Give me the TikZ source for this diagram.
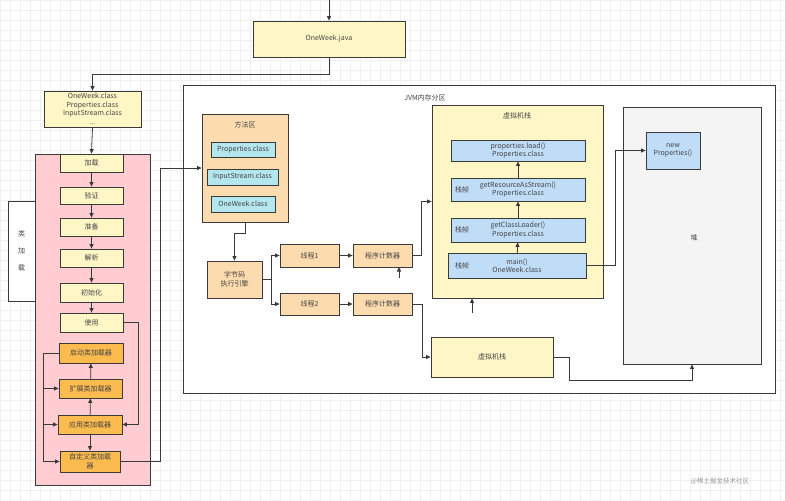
\documentclass[tikz,border=0pt]{standalone}
\usepackage{fontspec}
\setmainfont{Noto Sans CJK SC}
\usetikzlibrary{arrows.meta}
\definecolor{lc}{HTML}{3A3A3A}
\definecolor{tc}{HTML}{444444}
\definecolor{yel}{HTML}{FFF6C6}
\definecolor{pink}{HTML}{FFCCD2}
\definecolor{peach}{HTML}{FCDCAE}
\definecolor{orng}{HTML}{FBBB4E}
\definecolor{blu}{HTML}{C0DDF8}
\definecolor{cyn}{HTML}{B4E6EE}
\definecolor{heapc}{HTML}{F4F4F4}
\definecolor{gridc}{HTML}{F0F0F0}
\begin{document}
\begin{tikzpicture}[x=1pt,y=-1pt,
  every node/.style={font=\fontsize{7}{8.5}\selectfont, text=tc, align=center, inner sep=0pt},
  bx/.style={draw=lc, line width=0.8pt},
  ybox/.style={bx, fill=yel},
  pbox/.style={bx, fill=peach},
  obox/.style={bx, fill=orng},
  bbox/.style={bx, fill=blu},
  cbox/.style={bx, fill=cyn},
  wbox/.style={bx, fill=white},
  ln/.style={draw=lc, line width=0.8pt},
  conn/.style={ln, -{Triangle[length=4.5pt,width=4pt]}},
  sz/.style n args={2}{minimum width=#1pt, minimum height=#2pt}
]
\useasboundingbox (0,0) rectangle (785,501);
\fill[white] (0,0) rectangle (785,501);
\draw[gridc, line width=0.3pt, step=10pt] (0,0) grid (785,501);

% JVM frame
\node[wbox, sz={592}{308}] (jvm) at (479,239) {};
\node (jvml) at (425,98) {JVM内存分区};

% top
\coordinate (top) at (329,0);
\node[ybox, sz={152}{36}] (java) at (329,39) {OneWeek.java};
\node[ybox, sz={97}{36}] (cls) at (92.5,109) {OneWeek.class\\Properties.class\\InputStream.class\\...};
\draw[conn] (top) -- (java.north);
\draw[conn] (java.south) -- (329,74) -| (cls.north);

% class loading
\node[bx, fill=pink, sz={115}{331}] (pinkbox) at (92.5,319.5) {};
\node[wbox, sz={27}{100}, font=\fontsize{7}{17}\selectfont] (lj) at (21.5,251) {类\\加\\载};
\node[ybox, sz={63}{18}] (s1) at (91.5,163) {加载};
\node[ybox, sz={63}{17}] (s2) at (91.5,195.5) {验证};
\node[ybox, sz={63}{18}] (s3) at (91.5,227) {准备};
\node[ybox, sz={63}{18}] (s4) at (91.5,258) {解析};
\node[ybox, sz={63}{19}] (s5) at (91.5,292.5) {初始化};
\node[ybox, sz={63}{19}] (s6) at (91.5,322.5) {使用};
\draw[conn] (cls.south) -- (s1.north);
\draw[conn] (s1) -- (s2);
\draw[conn] (s2) -- (s3);
\draw[conn] (s3) -- (s4);
\draw[conn] (s4) -- (s5);
\draw[conn] (s5) -- (s6);

\node[obox, sz={64}{20}] (qd) at (91,353) {启动类加载器};
\node[obox, sz={63}{19}] (kz) at (90.5,388.5) {扩展类加载器};
\node[obox, sz={64}{19}] (yy) at (90,424.5) {应用类加载器};
\node[obox, sz={60}{21}] (zdy) at (90,461.5) {自定义类加载\\器};
\draw[conn] (kz) -- (qd);
\draw[conn] (yy) -- (kz);
\draw[conn] (yy) -- (zdy);
\draw[conn] (s6.east) -- (138,322.5) |- (yy.east);
\coordinate (lt) at (43,353);
\draw[ln] (qd.west) -- (lt) -- (43,461.5);
\draw[conn] (43,388.5) -- (kz.west);
\draw[conn] (43,424.5) -- (yy.west);
\draw[conn] (43,461.5) -- (zdy.west);

% method area
\node[pbox, sz={86}{108}] (ffq) at (245,168) {};
\node (ffql) at (245,125) {方法区};
\node[cbox, sz={64}{15}] (c1) at (243,149.5) {Properties.class};
\node[cbox, sz={71}{16}] (c2) at (242.5,177) {InputStream.class};
\node[cbox, sz={64}{16}] (c3) at (243,204) {OneWeek.class};
\draw[conn] (zdy.east) -- (160,461.5) |- (ffq.west);

\node[pbox, sz={55}{37}] (zj) at (234.5,279.5) {字节码\\执行引擎};
\draw[conn] (ffq.south) -- (245,233) -| (zj.north);

\node[pbox, sz={59}{23}] (xc1) at (309.5,255.5) {线程1};
\node[pbox, sz={59}{23}] (pc1) at (382.5,255.5) {程序计数器};
\node[pbox, sz={59}{22}] (xc2) at (309.5,304) {线程2};
\node[pbox, sz={59}{22}] (pc2) at (382.5,304) {程序计数器};
\coordinate (br) at (271,279.5);
\draw[ln] (zj.east) -- (br);
\draw[conn] (br) |- (xc1.west);
\draw[conn] (br) |- (xc2.west);
\draw[conn] (xc1) -- (pc1);
\draw[conn] (xc2) -- (pc2);

% VM stack
\node[ybox, sz={171}{193}] (vms) at (517.5,201.5) {};
\node (vmsl) at (517,116) {虚拟机栈};
\node[bbox, sz={134}{21}] (f1) at (518,150.5) {properties.load()\\Properties.class};
\node[bbox, sz={134}{23}] (f2) at (518,189.5) {getResourceAsStream()\\Properties.class};
\node[bbox, sz={134}{24}] (f3) at (518,230) {getClassLoader()\\Properties.class};
\node[bbox, sz={138}{25}] (f4) at (517,265.5) {main()\\OneWeek.class};
\node (z2) at (462,189.5) {栈帧};
\node (z3) at (462,230) {栈帧};
\node (z4) at (462,265.5) {栈帧};
\draw[conn] (f4) -- (f3);
\draw[conn] (f3) -- (f2);
\draw[conn] (f2) -- (f1);
\draw[conn] (pc1.east) -- (421,255.5) |- (vms.west);

\node[ybox, sz={122}{40}] (vs2) at (492,357) {虚拟机栈};
\draw[conn] (pc2.east) -- (422,304) |- (vs2.west);

% heap
\node[bx, fill=heapc, sz={138}{257}] (heap) at (692,235.5) {};
\node (heapl) at (694,238) {堆};
\node[bbox, sz={54}{37}] (np) at (673,150.5) {new\\Properties()};
\draw[conn] (f4.east) -- (615,265.5) |- (np.west);
\draw[conn] (vs2.east) -- (569,357) |- (692,380) -- (heap.south);

% stubs
\coordinate (st1) at (399,278);
\coordinate (st1e) at (399,267);
\draw[conn] (st1) -- (st1e);
\coordinate (st2) at (472,313);
\draw[conn] (st2) -- (vms.south -| st2);

% watermark
\node[text=black!40, font=\fontsize{6.5}{8}\selectfont] (wm) at (720,481) {@稀土掘金技术社区};
\end{tikzpicture}
\end{document}
